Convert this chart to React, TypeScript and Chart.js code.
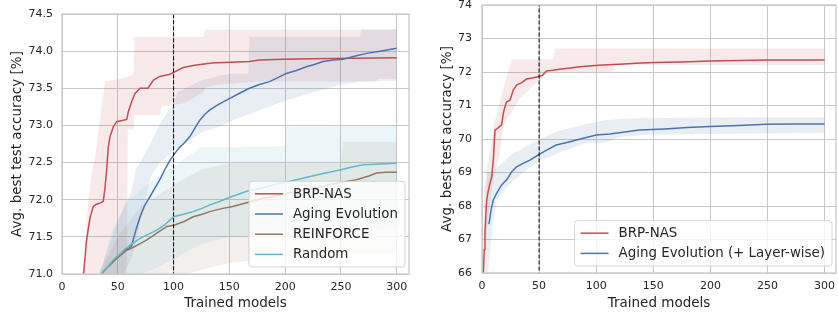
import React, { useEffect, useRef } from 'react';
import { Chart, registerables } from 'chart.js';
Chart.register(...registerables);

// ---------- LEFT PANEL DATA ----------
const leftXTicks = [0, 50, 100, 150, 200, 250, 300];
const leftYTicks = [71.0, 71.5, 72.0, 72.5, 73.0, 73.5, 74.0, 74.5];
const leftMarker = 100;

const brpX = [19, 20.5, 22, 23.5, 25, 28, 31, 35, 37, 38.5, 40, 41.5, 43, 46, 49, 55, 58, 59.4, 62.4, 65.4, 70, 77, 82, 87.7, 96.7, 101, 108.6, 119, 134, 168, 177, 198, 240, 300];
const brpY = [70.95, 71.2, 71.45, 71.6, 71.75, 71.91, 71.94, 71.96, 71.98, 72.15, 72.4, 72.71, 72.85, 72.98, 73.05, 73.07, 73.08, 73.18, 73.32, 73.43, 73.5, 73.5, 73.61, 73.66, 73.69, 73.72, 73.78, 73.81, 73.84, 73.86, 73.88, 73.89, 73.9, 73.91];
const brpBandX = [17, 20, 23, 26, 30, 35, 38.5, 43, 58, 59, 64, 65, 88, 89, 110, 127, 128, 140, 177, 282, 283, 300];
const brpBandHi = [70.9, 71.2, 71.9, 72.3, 72.6, 73.2, 73.59, 73.6, 73.65, 73.66, 73.68, 74.19, 74.19, 74.19, 74.19, 74.19, 74.29, 74.29, 74.29, 74.29, 74.29, 74.29];
const brpBandLo = [70.8, 70.8, 70.8, 70.8, 70.8, 70.8, 70.8, 70.8, 70.8, 72.95, 72.95, 73.14, 73.14, 73.25, 73.3, 73.45, 73.5, 73.55, 73.59, 73.59, 73.63, 73.63];

const agX = [35.5, 40, 45, 50, 55, 60, 62.4, 66, 70, 74, 78.8, 83, 87.7, 92, 96.7, 101, 105, 110, 114.6, 119, 123.5, 128, 132.5, 140, 150, 160, 168, 177, 186, 193, 201, 210, 219, 226, 234, 243, 252, 262, 273, 285, 300];
const agY = [71.0, 71.08, 71.16, 71.23, 71.3, 71.35, 71.38, 71.58, 71.77, 71.92, 72.04, 72.15, 72.27, 72.4, 72.53, 72.62, 72.7, 72.77, 72.85, 72.96, 73.07, 73.15, 73.21, 73.28, 73.36, 73.44, 73.5, 73.55, 73.59, 73.64, 73.7, 73.74, 73.79, 73.82, 73.86, 73.88, 73.89, 73.93, 73.97, 74.0, 74.04];
const agBandX = [34, 40, 45, 55, 62, 66, 70, 75, 79, 88, 98, 100, 104, 120, 124, 144, 153, 167, 168, 171, 201, 215, 250, 267, 268, 300];
const agBandHi = [71.0, 71.3, 71.5, 71.9, 72.1, 72.4, 72.5, 72.65, 72.75, 73.03, 73.25, 73.3, 73.45, 73.57, 73.6, 73.68, 73.7, 73.7, 74.19, 74.19, 74.19, 74.19, 74.19, 74.19, 74.29, 74.29];
const agBandLo = [70.8, 70.85, 70.9, 71.0, 71.2, 71.4, 71.7, 72.0, 72.3, 72.5, 72.63, 72.67, 72.7, 72.85, 72.9, 73.0, 73.07, 73.15, 73.15, 73.17, 73.34, 73.4, 73.55, 73.59, 73.59, 73.6];

const rfX = [35.5, 40, 45, 49, 54, 58, 64, 70, 76, 82, 88, 94, 101, 110, 117.5, 125, 132.5, 143, 153, 168, 180, 195, 209, 225, 240, 252, 264, 275, 282, 290, 300];
const rfY = [71.0, 71.08, 71.15, 71.21, 71.27, 71.32, 71.36, 71.41, 71.46, 71.52, 71.58, 71.64, 71.66, 71.71, 71.77, 71.8, 71.84, 71.88, 71.91, 71.97, 72.02, 72.06, 72.11, 72.15, 72.2, 72.24, 72.27, 72.32, 72.36, 72.37, 72.37];
const rfBandX = [30, 36, 50, 70, 100, 124, 150, 200, 250, 252, 300];
const rfBandHi = [70.9, 71.1, 71.5, 71.9, 72.2, 72.4, 72.49, 72.49, 72.49, 72.78, 72.78];
const rfBandLo = [70.8, 70.8, 70.82, 70.85, 70.95, 71.05, 71.15, 71.22, 71.27, 71.27, 71.28];

const rnX = [35.5, 40, 46, 52, 56, 61, 70, 78, 85, 92, 100, 108, 117.5, 125, 132.5, 140, 150, 165, 177, 190, 201, 216, 230, 249, 260, 270, 285, 300];
const rnY = [71.0, 71.08, 71.19, 71.27, 71.33, 71.39, 71.48, 71.54, 71.59, 71.66, 71.77, 71.8, 71.84, 71.88, 71.93, 71.97, 72.03, 72.11, 72.15, 72.2, 72.24, 72.29, 72.34, 72.4, 72.44, 72.47, 72.48, 72.49];
const rnBandX = [30, 36, 45, 60, 80, 100, 124, 125, 150, 200, 201, 300];
const rnBandHi = [70.9, 71.1, 71.6, 72.0, 72.25, 72.45, 72.7, 72.71, 72.71, 72.72, 72.98, 73.0];
const rnBandLo = [70.8, 70.8, 70.85, 70.95, 71.05, 71.2, 71.4, 71.4, 71.5, 71.55, 71.55, 71.6];

// ---------- RIGHT PANEL DATA ----------
const rightXTicks = [0, 50, 100, 150, 200, 250, 300];
const rightYTicks = [66, 67, 68, 69, 70, 71, 72, 73, 74];
const rightMarker = 50;

const lwBrpX = [1.2, 2, 2.6, 3.3, 4.1, 5.5, 7, 8.5, 9.9, 11.4, 13, 15, 17.2, 18.7, 20, 21.6, 24.5, 27.4, 30.3, 34.7, 39, 45, 49, 53, 56.6, 62, 68, 77, 86, 96, 106, 120, 135, 150, 175, 199.5, 225, 249, 275, 300];
const lwBrpY = [66.0, 66.7, 67.19, 67.7, 68.18, 68.45, 68.68, 68.87, 69.37, 70.27, 70.3, 70.36, 70.42, 70.77, 70.95, 71.11, 71.16, 71.46, 71.61, 71.68, 71.79, 71.83, 71.86, 71.9, 72.03, 72.05, 72.08, 72.12, 72.16, 72.19, 72.21, 72.23, 72.26, 72.28, 72.3, 72.33, 72.34, 72.36, 72.36, 72.36];
const lwBrpBandX = [1, 2, 5, 8, 11, 15, 19, 22, 26, 27, 33, 39, 50, 55, 62, 64, 115, 116, 300];
const lwBrpBandHi = [66.0, 68.5, 69.2, 69.8, 70.5, 71.0, 71.56, 71.9, 72.36, 72.38, 72.38, 72.38, 72.38, 72.38, 72.38, 72.7, 72.7, 72.7, 72.7];
const lwBrpBandLo = [65.5, 66.0, 67.5, 68.3, 68.9, 69.5, 70.4, 70.6, 70.8, 70.87, 71.2, 71.4, 71.76, 72.0, 72.0, 72.0, 72.0, 72.2, 72.2];

const lwAgX = [6.1, 8, 9.9, 12.8, 17.2, 21.6, 26, 30.3, 36, 42, 49, 56.6, 65, 77, 88.6, 100, 112, 125, 138, 160, 180, 199.5, 225, 249, 275, 300];
const lwAgY = [67.46, 67.9, 68.18, 68.38, 68.63, 68.78, 69.02, 69.17, 69.27, 69.37, 69.52, 69.67, 69.82, 69.92, 70.02, 70.12, 70.15, 70.21, 70.27, 70.3, 70.34, 70.37, 70.4, 70.44, 70.45, 70.45];
const lwAgBandX = [3, 4, 6, 10, 13, 20, 27, 32, 42, 51, 62, 68, 86, 91.5, 103, 109, 121, 135, 136, 200, 300];
const lwAgBandHi = [66.0, 68.98, 69.0, 69.05, 69.15, 69.35, 69.58, 69.65, 69.85, 70.0, 70.18, 70.25, 70.4, 70.45, 70.52, 70.57, 70.6, 70.62, 70.62, 70.64, 70.65];
const lwAgBandLo = [65.5, 65.5, 66.3, 67.6, 68.18, 68.5, 68.75, 68.88, 69.15, 69.37, 69.5, 69.6, 69.82, 69.88, 69.87, 69.9, 70.07, 70.1, 70.12, 70.15, 70.19];

// ---------- STYLE ----------
const FONT = '"DejaVu Sans", sans-serif';
const TEXT = '#262626';
const GRID = '#c8c8c8';
const RED = '#c44e52';
const BLUE = '#4c72b0';
const BROWN = '#937860';
const CYAN = '#64b5cd';

function rgba(hex: string, a: number) {
  const n = parseInt(hex.slice(1), 16);
  return `rgba(${(n >> 16) & 255},${(n >> 8) & 255},${n & 255},${a})`;
}

const pts = (xs: number[], ys: number[]) => xs.map((x, i) => ({ x, y: ys[i] }));

function bandSets(xs: number[], hi: number[], lo: number[], color: string, order: number) {
  return [
    { type: 'line', data: pts(xs, hi), borderWidth: 0, borderColor: 'transparent', pointRadius: 0, fill: false, order, tension: 0 },
    { type: 'line', data: pts(xs, lo), borderWidth: 0, borderColor: 'transparent', pointRadius: 0, fill: '-1', backgroundColor: rgba(color, 0.12), order, tension: 0 },
  ];
}

function lineSet(xs: number[], ys: number[], color: string, order: number) {
  return { type: 'line', data: pts(xs, ys), borderColor: color, borderWidth: 1.5, pointRadius: 0, fill: false, order, tension: 0 };
}

function markerSet(x: number, lo: number, hi: number) {
  return { type: 'line', data: [{ x, y: lo }, { x, y: hi }], borderColor: '#000', borderWidth: 1, borderDash: [4, 2], pointRadius: 0, fill: false, order: 0 };
}

const spinePlugin = {
  id: 'spines',
  afterDatasetsDraw(chart: any) {
    const { ctx, chartArea: a } = chart;
    ctx.save();
    ctx.strokeStyle = GRID;
    ctx.lineWidth = 1.25;
    ctx.strokeRect(a.left, a.top, a.right - a.left, a.bottom - a.top);
    ctx.restore();
  },
};

const boxLegendPlugin = {
  id: 'boxLegend',
  afterDraw(chart: any, _args: any, opts: any) {
    const items = opts.items as { label: string; color: string }[];
    if (!items) return;
    const { ctx, chartArea: a } = chart;
    ctx.save();
    ctx.font = `13.4px ${FONT}`;
    const maxW = Math.max(...items.map((it) => ctx.measureText(it.label).width));
    const rowH = 20.2;
    const textStart = 44;
    const w = textStart + maxW + 7;
    const h = items.length * rowH + 5;
    const right = a.right - 4;
    const bottom = a.bottom - 7;
    const left = right - w;
    const top = bottom - h;
    ctx.beginPath();
    const r = 3;
    ctx.moveTo(left + r, top);
    ctx.lineTo(right - r, top);
    ctx.arcTo(right, top, right, top + r, r);
    ctx.lineTo(right, bottom - r);
    ctx.arcTo(right, bottom, right - r, bottom, r);
    ctx.lineTo(left + r, bottom);
    ctx.arcTo(left, bottom, left, bottom - r, r);
    ctx.lineTo(left, top + r);
    ctx.arcTo(left, top, left + r, top, r);
    ctx.closePath();
    ctx.fillStyle = 'rgba(255,255,255,0.8)';
    ctx.fill();
    ctx.strokeStyle = 'rgba(204,204,204,0.8)';
    ctx.lineWidth = 1;
    ctx.stroke();
    items.forEach((it, i) => {
      const cy = top + 2.5 + rowH / 2 + i * rowH;
      ctx.strokeStyle = it.color;
      ctx.lineWidth = 1.5;
      ctx.beginPath();
      ctx.moveTo(left + 6, cy);
      ctx.lineTo(left + 34, cy);
      ctx.stroke();
      ctx.fillStyle = TEXT;
      ctx.textBaseline = 'middle';
      ctx.textAlign = 'left';
      ctx.fillText(it.label, left + textStart, cy + 0.5);
    });
    ctx.restore();
  },
};

function makeOptions(p: {
  xmax: number; ymin: number; ymax: number; xTicks: number[]; yTicks: number[];
  padTop: number; padRight: number; xH: number; yW: number; yTitlePad: number; yTickPad: number;
  yFmt: (v: number) => string; legend: { label: string; color: string }[];
}) {
  return {
    responsive: false,
    animation: false,
    devicePixelRatio: 1,
    events: [],
    layout: { padding: { top: p.padTop, right: p.padRight, left: 0, bottom: 0 } },
    plugins: {
      legend: { display: false },
      tooltip: { enabled: false },
      boxLegend: { items: p.legend },
    },
    scales: {
      x: {
        type: 'linear',
        min: 0,
        max: p.xmax,
        afterBuildTicks: (s: any) => { s.ticks = p.xTicks.map((v) => ({ value: v })); },
        afterFit: (s: any) => { s.height = p.xH; s.paddingLeft = 0; s.paddingRight = 0; s.paddingTop = 0; s.paddingBottom = 0; },
        grid: { color: GRID, lineWidth: 1, drawTicks: false },
        border: { display: false },
        ticks: { color: TEXT, font: { family: FONT, size: 11 }, padding: 7, maxRotation: 0, autoSkip: false, callback: (v: number) => String(v) },
        title: { display: true, text: 'Trained models', color: TEXT, font: { family: FONT, size: 13.5, lineHeight: 1.2 }, padding: { top: 0, bottom: 1 } },
      },
      y: {
        type: 'linear',
        min: p.ymin,
        max: p.ymax,
        afterBuildTicks: (s: any) => { s.ticks = p.yTicks.map((v) => ({ value: v })); },
        afterFit: (s: any) => { s.width = p.yW; s.paddingLeft = 0; s.paddingRight = 0; s.paddingTop = 0; s.paddingBottom = 0; },
        grid: { color: GRID, lineWidth: 1, drawTicks: false },
        border: { display: false },
        ticks: { color: TEXT, font: { family: FONT, size: 11 }, padding: p.yTickPad, autoSkip: false, callback: (v: number) => p.yFmt(v) },
        title: { display: true, text: 'Avg. best test accuracy [%]', color: TEXT, font: { family: FONT, size: 13.5, lineHeight: 1.2 }, padding: { top: p.yTitlePad, bottom: 0 } },
      },
    },
  };
}

function useChart(ref: React.RefObject<HTMLCanvasElement>, build: () => any) {
  useEffect(() => {
    if (!ref.current) return;
    const chart = new Chart(ref.current, build());
    return () => chart.destroy();
  }, []);
}

function LeftChart() {
  const ref = useRef<HTMLCanvasElement>(null);
  useChart(ref, () => ({
    type: 'line',
    data: {
      datasets: [
        ...bandSets(brpBandX, brpBandHi, brpBandLo, RED, 14),
        ...bandSets(agBandX, agBandHi, agBandLo, BLUE, 13),
        ...bandSets(rfBandX, rfBandHi, rfBandLo, BROWN, 12),
        ...bandSets(rnBandX, rnBandHi, rnBandLo, CYAN, 11),
        lineSet(brpX, brpY, RED, 4),
        lineSet(agX, agY, BLUE, 3),
        lineSet(rfX, rfY, BROWN, 2),
        lineSet(rnX, rnY, CYAN, 1),
        markerSet(leftMarker, 70, 75),
      ],
    },
    options: makeOptions({
      xmax: 311, ymin: 71, ymax: 74.5, xTicks: leftXTicks, yTicks: leftYTicks,
      padTop: 14, padRight: 6, xH: 39, yW: 62, yTitlePad: 9, yTickPad: 9,
      yFmt: (v) => v.toFixed(1),
      legend: [
        { label: 'BRP-NAS', color: RED },
        { label: 'Aging Evolution', color: BLUE },
        { label: 'REINFORCE', color: BROWN },
        { label: 'Random', color: CYAN },
      ],
    }),
    plugins: [spinePlugin, boxLegendPlugin],
  }));
  return <canvas ref={ref} width={415} height={313} style={{ position: 'absolute', left: 0, top: 0, width: 415, height: 313 }} />;
}

function RightChart() {
  const ref = useRef<HTMLCanvasElement>(null);
  useChart(ref, () => ({
    type: 'line',
    data: {
      datasets: [
        ...bandSets(lwBrpBandX, lwBrpBandHi, lwBrpBandLo, RED, 12),
        ...bandSets(lwAgBandX, lwAgBandHi, lwAgBandLo, BLUE, 11),
        lineSet(lwBrpX, lwBrpY, RED, 2),
        lineSet(lwAgX, lwAgY, BLUE, 1),
        markerSet(rightMarker, 65, 75),
      ],
    },
    options: makeOptions({
      xmax: 310, ymin: 66, ymax: 74, xTicks: rightXTicks, yTicks: rightYTicks,
      padTop: 5, padRight: 8, xH: 40, yW: 62, yTitlePad: 19, yTickPad: 10,
      yFmt: (v) => String(v),
      legend: [
        { label: 'BRP-NAS', color: RED },
        { label: 'Aging Evolution (+ Layer-wise)', color: BLUE },
      ],
    }),
    plugins: [spinePlugin, boxLegendPlugin],
  }));
  return <canvas ref={ref} width={424} height={313} style={{ position: 'absolute', left: 420, top: 0, width: 424, height: 313 }} />;
}

export default function App() {
  useEffect(() => {
    document.body.style.margin = '0';
    document.body.style.overflow = 'hidden';
  }, []);
  return (
    <div style={{ position: 'relative', width: 838, height: 313, overflow: 'hidden', background: '#fff' }}>
      <LeftChart />
      <RightChart />
    </div>
  );
}
